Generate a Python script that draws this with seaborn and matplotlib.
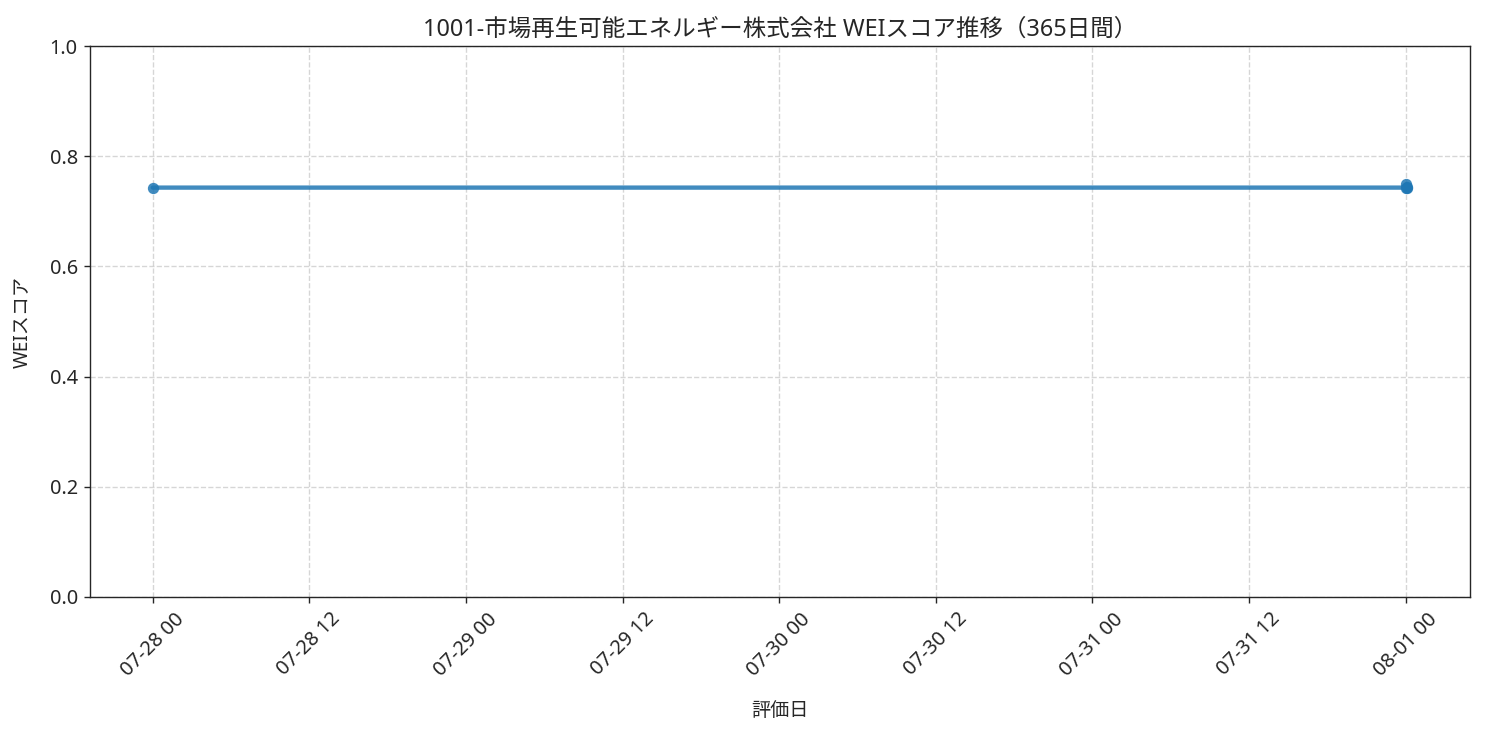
import pandas as pd
import matplotlib
matplotlib.use('Agg')
import matplotlib.pyplot as plt
import matplotlib.dates as mdates
import seaborn as sns

# 評価日とWEIスコア
eval_dates = ['2025-07-28 00:00', '2025-08-01 00:02', '2025-08-01 00:04',
              '2025-08-01 00:06', '2025-08-01 00:08']
wei_scores = [0.743, 0.743, 0.749, 0.745, 0.742]
title = '1001-市場再生可能エネルギー株式会社 WEIスコア推移（365日間）'

df = pd.DataFrame({'評価日': pd.to_datetime(eval_dates), 'WEIスコア': wei_scores})

sns.set_style('ticks')
plt.rcParams['font.family'] = ['Noto Sans', 'Noto Sans CJK JP', 'DejaVu Sans']

fig, ax = plt.subplots(figsize=(11.88, 5.88), dpi=125)
sns.lineplot(data=df, x='評価日', y='WEIスコア', ax=ax, marker='o',
             color='#1f77b4', linewidth=2.5, markersize=6.5, alpha=0.85,
             markeredgewidth=0, estimator=None)
ax.set_ylim(0, 1)
ax.set_title(title, fontsize=13.5)
ax.set_xlabel('評価日', fontsize=11, labelpad=12)
ax.set_ylabel('WEIスコア', fontsize=11, labelpad=10)
ax.tick_params(labelsize=11.5)
ax.grid(True, linestyle='--', color='#bbbbbb', alpha=0.6)
ax.xaxis.set_major_locator(mdates.HourLocator(byhour=[0, 12]))
ax.xaxis.set_major_formatter(mdates.DateFormatter('%m-%d %H'))
plt.setp(ax.get_xticklabels(), rotation=45)
fig.subplots_adjust(left=0.0606, right=0.9899, top=0.9374, bottom=0.1878)
fig.savefig('out.png', dpi=125)
